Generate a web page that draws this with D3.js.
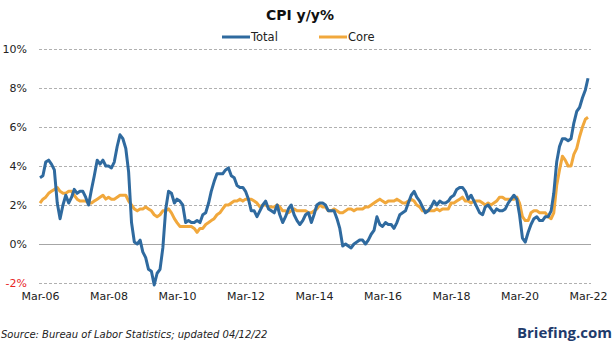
<!DOCTYPE html>
<html>
<head>
<meta charset="utf-8">
<script src="https://cdn.jsdelivr.net/npm/d3@7"></script>
<style>
  html, body { margin: 0; padding: 0; background: #fff; }
  svg { display: block; }
</style>
</head>
<body>
<svg id="chart" width="616" height="346"></svg>
<script>
// Monthly CPI, year-over-year % change, Mar 2006 .. Mar 2022
const startMonth = new Date(2006, 2, 1);

const totalCPI = [
  // 2006 Mar-Dec
  3.4, 3.5, 4.2, 4.3, 4.1, 3.8, 2.1, 1.3, 2.0, 2.5,
  // 2007
  2.1, 2.4, 2.8, 2.6, 2.7, 2.7, 2.4, 2.0, 2.8, 3.5, 4.3, 4.1,
  // 2008
  4.3, 4.0, 4.0, 3.9, 4.2, 5.0, 5.6, 5.4, 4.9, 3.7, 1.1, 0.1,
  // 2009
  0.0, 0.2, -0.4, -0.7, -1.3, -1.4, -2.1, -1.5, -1.3, -0.2, 1.8, 2.7,
  // 2010
  2.6, 2.1, 2.3, 2.2, 2.0, 1.1, 1.2, 1.1, 1.1, 1.2, 1.1, 1.5,
  // 2011
  1.6, 2.1, 2.7, 3.2, 3.6, 3.6, 3.6, 3.8, 3.9, 3.5, 3.4, 3.0,
  // 2012
  2.9, 2.9, 2.7, 2.3, 1.7, 1.7, 1.4, 1.7, 2.0, 2.2, 1.8, 1.7,
  // 2013
  1.6, 2.0, 1.5, 1.1, 1.4, 1.8, 2.0, 1.5, 1.2, 1.0, 1.2, 1.5,
  // 2014
  1.6, 1.1, 1.5, 2.0, 2.1, 2.1, 2.0, 1.7, 1.7, 1.7, 1.3, 0.8,
  // 2015
  -0.1, 0.0, -0.1, -0.2, 0.0, 0.1, 0.2, 0.2, 0.0, 0.2, 0.5, 0.7,
  // 2016
  1.4, 1.0, 0.9, 1.1, 1.0, 1.0, 0.8, 1.1, 1.5, 1.6, 1.7, 2.1,
  // 2017
  2.5, 2.7, 2.4, 2.2, 1.9, 1.6, 1.7, 1.9, 2.2, 2.0, 2.2, 2.1,
  // 2018
  2.1, 2.2, 2.4, 2.5, 2.8, 2.9, 2.9, 2.7, 2.3, 2.5, 2.2, 1.9,
  // 2019
  1.6, 1.5, 1.9, 2.0, 1.8, 1.6, 1.8, 1.7, 1.7, 1.8, 2.1, 2.3,
  // 2020
  2.5, 2.3, 1.5, 0.3, 0.1, 0.6, 1.0, 1.3, 1.4, 1.2, 1.2, 1.4,
  // 2021
  1.4, 1.7, 2.6, 4.2, 5.0, 5.4, 5.4, 5.3, 5.4, 6.2, 6.8, 7.0,
  // 2022 Jan-Mar
  7.5, 7.9, 8.5
];

const coreCPI = [
  // 2006 Mar-Dec
  2.1, 2.3, 2.4, 2.6, 2.7, 2.8, 2.9, 2.7, 2.6, 2.6,
  // 2007
  2.7, 2.7, 2.5, 2.3, 2.2, 2.2, 2.2, 2.1, 2.1, 2.2, 2.3, 2.4,
  // 2008
  2.5, 2.3, 2.4, 2.3, 2.3, 2.4, 2.5, 2.5, 2.5, 2.2, 2.0, 1.8,
  // 2009
  1.7, 1.8, 1.8, 1.9, 1.8, 1.7, 1.5, 1.4, 1.5, 1.7, 1.7, 1.8,
  // 2010
  1.6, 1.3, 1.1, 0.9, 0.9, 0.9, 0.9, 0.9, 0.8, 0.6, 0.8, 0.8,
  // 2011
  1.0, 1.1, 1.2, 1.3, 1.5, 1.6, 1.8, 2.0, 2.0, 2.1, 2.2, 2.2,
  // 2012
  2.3, 2.2, 2.3, 2.3, 2.3, 2.2, 2.1, 1.9, 2.0, 2.0, 1.9, 1.9,
  // 2013
  1.9, 2.0, 1.9, 1.7, 1.7, 1.6, 1.7, 1.8, 1.7, 1.7, 1.7, 1.7,
  // 2014
  1.6, 1.6, 1.7, 1.8, 2.0, 1.9, 1.9, 1.7, 1.7, 1.8, 1.7, 1.6,
  // 2015
  1.6, 1.7, 1.8, 1.8, 1.7, 1.8, 1.8, 1.8, 1.9, 1.9, 2.0, 2.1,
  // 2016
  2.2, 2.3, 2.2, 2.1, 2.2, 2.2, 2.2, 2.3, 2.2, 2.1, 2.1, 2.2,
  // 2017
  2.3, 2.2, 2.0, 1.9, 1.7, 1.7, 1.7, 1.7, 1.7, 1.8, 1.7, 1.8,
  // 2018
  1.8, 1.8, 2.1, 2.1, 2.2, 2.3, 2.4, 2.2, 2.2, 2.1, 2.2, 2.2,
  // 2019
  2.2, 2.1, 2.0, 2.1, 2.0, 2.1, 2.2, 2.4, 2.4, 2.3, 2.3, 2.3,
  // 2020
  2.3, 2.4, 2.1, 1.4, 1.2, 1.2, 1.6, 1.7, 1.7, 1.6, 1.6, 1.6,
  // 2021
  1.4, 1.3, 1.6, 3.0, 3.8, 4.5, 4.3, 4.0, 4.0, 4.6, 4.9, 5.5,
  // 2022 Jan-Mar
  6.0, 6.4, 6.5
];

const seriesNames = ["Total", "Core"];
const yTicks = [-2, 0, 2, 4, 6, 8, 10];
const xTickLabels = ["Mar-06", "Mar-08", "Mar-10", "Mar-12", "Mar-14", "Mar-16", "Mar-18", "Mar-20", "Mar-22"];

const colors = { Total: "#2f6a9f", Core: "#f1a83c" };

const svg = d3.select("#chart");

const months = totalCPI.map((_, i) => d3.timeMonth.offset(startMonth, i));
const x = d3.scaleTime()
  .domain([months[0], months[months.length - 1]])
  .range([40, 588]);
const y = d3.scaleLinear().domain([-2, 10]).range([283, 49]);

// Horizontal grid
const grid = svg.append("g");
grid.selectAll("line").data(yTicks).join("line")
  .attr("x1", 39).attr("x2", 591)
  .attr("y1", d => Math.round(y(d)) + 0.5).attr("y2", d => Math.round(y(d)) + 0.5)
  .attr("stroke", d => d === 0 ? "#a6a6a6" : "#b0b0b0")
  .attr("stroke-width", 1)
  .attr("stroke-dasharray", d => d === 0 ? null : "3,2");

// Y axis labels
const yAxis = d3.axisLeft(y).tickValues(yTicks).tickSize(0).tickPadding(0)
  .tickFormat(d => d + "%");
const yg = svg.append("g").attr("transform", "translate(27,0)").call(yAxis);
yg.select(".domain").remove();
yg.selectAll("text")
  .attr("font-family", "'DejaVu Sans', Verdana, sans-serif")
  .attr("font-size", 11)
  .attr("fill", d => d < 0 ? "#e8251f" : "#222");

// X axis labels
const tickDates = xTickLabels.map((_, i) => new Date(2006 + 2 * i, 2, 1));
const xAxis = d3.axisBottom(x).tickValues(tickDates).tickSize(0).tickPadding(0)
  .tickFormat((d, i) => xTickLabels[i]);
const xg = svg.append("g").attr("transform", "translate(0,292)").call(xAxis);
xg.select(".domain").remove();
xg.selectAll("text")
  .attr("font-family", "'DejaVu Sans', Verdana, sans-serif")
  .attr("font-size", 11)
  .attr("fill", "#222");

// Lines
const line = d3.line()
  .x((d, i) => x(months[i]))
  .y(d => y(d));

svg.append("path").datum(coreCPI)
  .attr("d", line).attr("fill", "none")
  .attr("stroke", colors.Core).attr("stroke-width", 3)
  .attr("stroke-linejoin", "round");

svg.append("path").datum(totalCPI)
  .attr("d", line).attr("fill", "none")
  .attr("stroke", colors.Total).attr("stroke-width", 3)
  .attr("stroke-linejoin", "round");

// Title
svg.append("text")
  .attr("x", 300).attr("y", 20)
  .attr("text-anchor", "middle")
  .attr("font-family", "'DejaVu Sans', Verdana, sans-serif")
  .attr("font-weight", "bold").attr("font-size", 14)
  .attr("fill", "#111")
  .text("CPI y/y%");

// Legend
const legendX = [222, 319];
const lg = svg.append("g");
seriesNames.forEach((name, i) => {
  lg.append("line")
    .attr("x1", legendX[i]).attr("x2", legendX[i] + 28)
    .attr("y1", 37).attr("y2", 37)
    .attr("stroke", colors[name]).attr("stroke-width", 3);
  lg.append("text")
    .attr("x", legendX[i] + 29).attr("y", 41)
    .attr("font-family", "'DejaVu Sans', Verdana, sans-serif")
    .attr("font-size", 11.5).attr("fill", "#222")
    .text(name);
});

// Footer
svg.append("text")
  .attr("x", 1).attr("y", 338)
  .attr("font-family", "'DejaVu Sans', sans-serif")
  .attr("font-style", "italic")
  .attr("font-size", 10).attr("fill", "#222")
  .text("Source: Bureau of Labor Statistics; updated 04/12/22");

svg.append("text")
  .attr("x", 612).attr("y", 338)
  .attr("text-anchor", "end")
  .attr("font-family", "'Open Sans', 'DejaVu Sans', sans-serif")
  .attr("font-weight", "bold").attr("font-size", 15)
  .attr("fill", "#1f3b6b")
  .text("Briefing.com");
</script>
</body>
</html>
